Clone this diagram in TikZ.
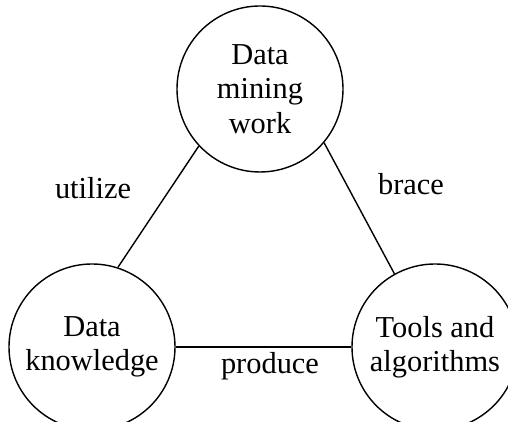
\documentclass[tikz,border=0pt]{standalone}
\usepackage{fontspec}
\setmainfont{Liberation Serif}
\usetikzlibrary{calc,positioning}

\tikzset{
  topic/.style={circle,draw,line width=0.8pt,minimum size=3.32cm,inner sep=0pt,
    align=center,font=\fontsize{17.3}{19.6}\selectfont},
  rel/.style={font=\fontsize{17.3}{19.6}\selectfont,anchor=base},
  link/.style={line width=0.8pt}
}

\begin{document}
\begin{tikzpicture}
          \useasboundingbox (0,0) rectangle (10.16,8.44);
          \begin{scope}
            \node[topic] (work) at (5.2, 6.66) {Data\\mining\\work};
            \node[topic] (know) at (1.84, 1.5) {Data\\knowledge};
            \node[topic] (tools) at (8.7, 1.5) {Tools and\\algorithms};
            \draw[link] (work.223) -- (know.72);
            \draw[link] (work.320) -- (tools.119);
            \draw[link] (know.east) -- (tools.west);
            \node[rel] (utilize) at (1.86, 4.47) {utilize};
            \node[rel] (brace) at (8.22, 4.54) {brace};
            \node[rel] (produce) at (5.4, 0.96) {produce};
          \end{scope}
        \end{tikzpicture}
\end{document}
